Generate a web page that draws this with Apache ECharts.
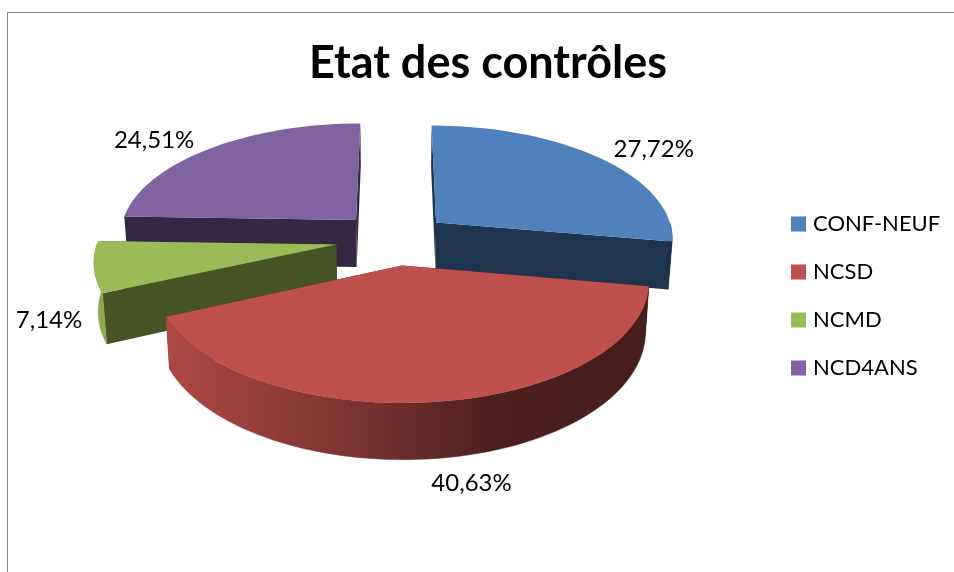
<!DOCTYPE html>
<html>
<head>
<meta charset="utf-8">
<style>
  html, body { margin: 0; padding: 0; background: #fff; }
  #chart { width: 954px; height: 572px; }
</style>
<script src="https://cdn.jsdelivr.net/npm/echarts@6/dist/echarts.min.js"></script>
</head>
<body>
<div id="chart"></div>
<script>
// data
const categories = ['CONF-NEUF', 'NCSD', 'NCMD', 'NCD4ANS'];
const percents = [27.72, 40.63, 7.14, 24.51];

// style, one entry per slice
const topColors = ['#4F81BD', '#C0504D', '#9BBB59', '#8064A2'];
const wallColors = ['#1F344D', '#4A1D1B', '#465325', '#352842'];
const sliceOrder = [2, 4, 3, 1];
const explodes = [0.23, 0.23, 0.25, 0.24];
const labelShift = [[55, -8], [34, 81], [-45, 53], [-56, -8]];

// fake 3D projection of the exploded pie
const vx = 395, vy = 239;
const radius = 238, tilt = 113, depth = 48;
const persp = 0.125, converge = 0.0003;

const total = percents.reduce((a, b) => a + b, 0);
const startAngles = percents.map((_, i) =>
  percents.slice(0, i).reduce((a, b) => a + b, 0) / total * Math.PI * 2
);

function project(a, b, z) {
  const f = 1 / (1 - persp * b);
  return [vx + radius * a * f * (1 - converge * z), vy + (tilt * b + z) * f];
}

function rimPoint(i, angle, z) {
  const mid = startAngles[i] + percents[i] / total * Math.PI;
  const a = explodes[i] * Math.sin(mid) + Math.sin(angle);
  const b = -explodes[i] * Math.cos(mid) - Math.cos(angle);
  return project(a, b, z);
}

function apexPoint(i, z) {
  const mid = startAngles[i] + percents[i] / total * Math.PI;
  return project(explodes[i] * Math.sin(mid), -explodes[i] * Math.cos(mid), z);
}

function arcAngles(from, to) {
  const steps = Math.max(2, Math.ceil((to - from) / 0.03));
  const out = [];
  for (let s = 0; s <= steps; s++) out.push(from + (to - from) * s / steps);
  return out;
}

function shade(hex, k) {
  const n = parseInt(hex.slice(1), 16);
  const c = [n >> 16, (n >> 8) & 255, n & 255].map(v => Math.round(v * k));
  return `rgb(${c[0]},${c[1]},${c[2]})`;
}

// one group per slice: walls, outer rim, top face, label
const renderSlice = i => (params, api) => {
  const value = api.value(0);
  const from = startAngles[i];
  const to = from + value / total * Math.PI * 2;
  const children = [];

  [from, to].forEach(angle => {
    children.push({
      type: 'polygon',
      shape: { points: [apexPoint(i, 0), rimPoint(i, angle, 0), rimPoint(i, angle, depth), apexPoint(i, depth)] },
      style: { fill: wallColors[i] }
    });
  });

  // only the part of the rim that faces the viewer
  const rimFrom = Math.max(from, Math.PI / 2);
  const rimTo = Math.min(to, Math.PI * 1.5);
  if (rimTo > rimFrom) {
    const angles = arcAngles(rimFrom, rimTo);
    const upper = angles.map(t => rimPoint(i, t, 0));
    const lower = angles.map(t => rimPoint(i, t, depth)).reverse();
    const rimFill = new echarts.graphic.LinearGradient(166, 0, 620, 0, [
      { offset: 0, color: shade(topColors[i], 0.9) },
      { offset: 0.45, color: shade(topColors[i], 0.62) },
      { offset: 0.72, color: shade(topColors[i], 0.39) },
      { offset: 1, color: shade(topColors[i], 0.37) }
    ], true);
    children.push({
      type: 'polygon',
      shape: { points: upper.concat(lower) },
      style: { fill: rimFill, stroke: rimFill, lineWidth: 0.5 }
    });
  }

  const top = [apexPoint(i, 0)].concat(arcAngles(from, to).map(t => rimPoint(i, t, 0)));
  children.push({ type: 'polygon', shape: { points: top }, style: { fill: topColors[i] } });

  const anchor = rimPoint(i, (from + to) / 2, 0);
  children.push({
    type: 'text',
    style: {
      text: value.toFixed(2).replace('.', ',') + '%',
      x: anchor[0] + labelShift[i][0],
      y: anchor[1] + labelShift[i][1],
      align: 'center',
      verticalAlign: 'middle',
      fill: '#000',
      font: '24px Lato'
    }
  });

  return { type: 'group', children };
};

const chart = echarts.init(document.getElementById('chart'));

chart.setOption({
  animation: false,
  backgroundColor: '#fff',
  title: {
    text: 'Etat des contrôles',
    left: 483,
    top: 36,
    textAlign: 'center',
    textStyle: { fontFamily: 'Lato', fontSize: 45, fontWeight: 'bold', color: '#000' }
  },
  legend: {
    orient: 'vertical',
    left: 791,
    top: 213,
    padding: 0,
    icon: 'rect',
    itemWidth: 15,
    itemHeight: 15,
    itemGap: 26,
    data: categories,
    textStyle: { fontFamily: 'Lato', fontSize: 22, color: '#000', padding: [0, 0, 0, 2] }
  },
  graphic: [
    {
      type: 'polyline',
      shape: { points: [[7.5, 572], [7.5, 12.5], [954, 12.5]] },
      style: { stroke: '#868686', lineWidth: 1, fill: null }
    }
  ],
  series: categories.map((name, i) => ({
    name,
    type: 'custom',
    coordinateSystem: 'none',
    z: sliceOrder[i],
    itemStyle: { color: topColors[i] },
    renderItem: renderSlice(i),
    data: [[percents[i]]]
  }))
});
</script>
</body>
</html>
